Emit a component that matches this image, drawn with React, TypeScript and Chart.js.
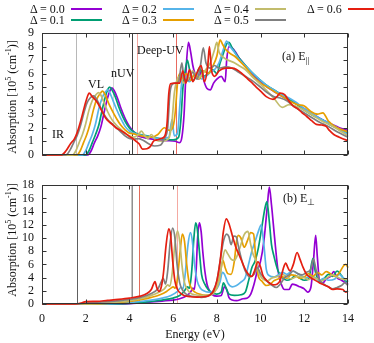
import React, { useEffect, useRef } from 'react';
import { Chart, registerables } from 'chart.js';
Chart.register(...registerables);

const FONT = "'Liberation Serif', 'Times New Roman', serif";

const deltaLabels = ['Δ = 0.0', 'Δ = 0.1', 'Δ = 0.2', 'Δ = 0.3', 'Δ = 0.4', 'Δ = 0.5', 'Δ = 0.6'];
const seriesColors = ['#9400d3', '#009e73', '#56b4e9', '#e69f00', '#c2bc6c', '#808080', '#e51e10'];

const xTicks = [0, 2, 4, 6, 8, 10, 12, 14];
const yTicksA = [0, 1, 2, 3, 4, 5, 6, 7, 8, 9];
const yTicksB = [0, 2, 4, 6, 8, 10, 12, 14, 16, 18];

// vertical marker lines (energy, eV)
const vlineEA = [1.56, 3.26, 4.13, 4.36, 6.15];
const vlineColorA = ['#b8b8b8', '#d4d4d4', '#404040', '#f4a8a0', '#e86a60'];
const vlineEB = [1.62, 3.26, 4.05, 4.13, 4.42, 6.18];
const vlineColorB = ['#606060', '#e2e2e2', '#c4c4c4', '#909090', '#e06a5a', '#f4aaa2'];

// ---- panel (a) E parallel ----
const a00: number[][] = [[0,0],[2.1,0],[2.25,0.3],[2.4,0.9],[2.55,1.4],[2.7,2.1],[2.85,3.2],[3.0,4.2],[3.1,4.7],[3.2,4.95],[3.3,4.75],[3.45,4.2],[3.6,3.5],[3.8,2.7],[4.0,2.1],[4.2,1.7],[4.4,1.4],[4.6,1.3],[4.9,1.2],[5.3,1.1],[5.7,1.05],[6.1,1.0],[6.3,0.9],[6.4,1.3],[6.5,3.0],[6.6,6.5],[6.7,8.3],[6.8,7.6],[6.9,6.6],[7.0,6.0],[7.15,5.6],[7.3,6.2],[7.4,5.5],[7.55,4.9],[7.7,4.8],[7.85,5.3],[8.0,5.6],[8.2,5.8],[8.38,5.4],[8.45,7.0],[8.55,8.0],[8.7,7.9],[8.85,7.6],[9.0,7.2],[9.3,6.6],[9.6,6.0],[10.0,5.4],[10.3,5.0],[10.6,4.7],[11.0,4.3],[11.3,4.0],[11.6,3.8],[12.0,3.4],[12.4,3.0],[12.8,2.6],[13.2,2.3],[13.6,2.0],[14.0,1.8]];
const a01: number[][] = [[0,0],[2.0,0],[2.15,0.3],[2.3,0.9],[2.45,1.5],[2.6,2.2],[2.75,3.3],[2.9,4.3],[3.0,4.8],[3.1,5.0],[3.2,4.8],[3.35,4.3],[3.5,3.6],[3.7,2.8],[3.9,2.2],[4.1,1.8],[4.3,1.6],[4.5,1.5],[4.8,1.4],[5.2,1.25],[5.6,1.15],[6.0,1.1],[6.25,1.3],[6.35,2.5],[6.45,5.0],[6.55,6.2],[6.65,7.0],[6.75,6.3],[6.9,5.5],[7.05,5.8],[7.2,6.4],[7.4,5.8],[7.6,6.0],[7.8,6.3],[8.0,6.0],[8.15,6.8],[8.3,7.5],[8.45,8.2],[8.55,8.3],[8.7,7.9],[8.9,7.4],[9.2,6.8],[9.6,6.1],[10.0,5.5],[10.3,5.1],[10.6,4.8],[11.0,4.4],[11.3,4.1],[11.6,3.8],[12.0,3.3],[12.4,2.9],[12.8,2.6],[13.2,2.2],[13.6,1.9],[14.0,1.6]];
const a02: number[][] = [[0,0],[1.85,0],[2.0,0.3],[2.15,0.9],[2.3,1.5],[2.45,2.3],[2.6,3.4],[2.75,4.2],[2.88,4.6],[3.0,4.8],[3.1,4.6],[3.25,4.0],[3.4,3.4],[3.6,2.7],[3.8,2.1],[4.0,1.75],[4.2,1.6],[4.4,1.5],[4.7,1.4],[5.0,1.3],[5.4,1.2],[5.8,1.3],[5.95,2.6],[6.05,1.4],[6.2,1.6],[6.3,3.5],[6.4,5.5],[6.5,6.0],[6.6,5.6],[6.75,5.4],[6.9,5.8],[7.1,6.0],[7.3,5.6],[7.5,5.8],[7.7,6.1],[7.9,6.3],[8.1,6.8],[8.3,7.8],[8.45,8.4],[8.6,8.0],[8.8,7.6],[9.0,7.1],[9.3,6.6],[9.6,6.1],[10.0,5.5],[10.3,5.1],[10.6,4.8],[11.0,4.4],[11.3,4.2],[11.6,3.9],[12.0,3.4],[12.4,3.0],[12.8,2.6],[13.2,2.3],[13.6,1.9],[14.0,1.5]];
const a03: number[][] = [[0,0],[1.6,0],[1.75,0.3],[1.9,0.9],[2.05,1.5],[2.2,2.3],[2.35,3.3],[2.5,4.1],[2.65,4.5],[2.77,4.7],[2.9,4.4],[3.05,3.8],[3.2,3.3],[3.4,2.7],[3.6,2.2],[3.8,1.85],[4.0,1.6],[4.2,1.55],[4.4,1.45],[4.7,1.35],[5.0,1.3],[5.3,1.5],[5.6,2.0],[5.85,1.8],[6.0,2.1],[6.1,3.2],[6.2,5.3],[6.3,6.0],[6.45,5.6],[6.6,6.0],[6.8,5.5],[7.0,6.0],[7.2,5.6],[7.4,6.2],[7.6,6.0],[7.8,6.5],[8.0,7.3],[8.15,8.5],[8.25,8.2],[8.4,7.8],[8.6,7.5],[8.8,7.3],[9.0,7.0],[9.3,6.5],[9.6,5.9],[10.0,5.3],[10.3,5.0],[10.6,4.7],[11.0,4.3],[11.3,4.0],[11.7,3.7],[12.0,3.6],[12.3,3.2],[12.6,3.0],[12.85,3.1],[13.1,2.5],[13.5,2.0],[14.0,1.7]];
const a04: number[][] = [[0,0],[1.4,0],[1.55,0.3],[1.7,0.9],[1.85,1.5],[2.0,2.3],[2.15,3.3],[2.3,4.0],[2.45,4.4],[2.58,4.6],[2.7,4.4],[2.85,3.8],[3.0,3.2],[3.2,2.6],[3.4,2.2],[3.6,1.9],[3.8,1.6],[4.0,1.4],[4.2,1.3],[4.4,1.5],[4.55,1.75],[4.7,1.4],[4.85,1.2],[5.0,1.5],[5.2,1.1],[5.5,1.0],[5.8,1.2],[5.95,2.5],[6.05,4.5],[6.15,5.4],[6.3,5.8],[6.5,5.3],[6.7,5.8],[6.9,6.2],[7.1,5.6],[7.3,5.9],[7.5,6.3],[7.7,6.8],[7.9,7.8],[8.0,8.3],[8.1,7.6],[8.3,7.2],[8.5,7.0],[8.8,6.8],[9.0,6.6],[9.3,6.3],[9.6,5.8],[10.0,5.2],[10.3,4.7],[10.6,4.2],[11.0,3.5],[11.3,3.7],[11.6,3.6],[12.0,3.3],[12.4,2.9],[12.8,2.5],[13.2,2.2],[13.6,1.8],[14.0,1.4]];
const a05: number[][] = [[0,0],[1.1,0],[1.3,0.4],[1.45,0.9],[1.6,1.4],[1.75,2.1],[1.9,3.0],[2.05,3.8],[2.2,4.2],[2.36,4.35],[2.5,4.1],[2.65,3.6],[2.8,3.1],[3.0,2.6],[3.2,2.3],[3.4,2.0],[3.6,1.7],[3.8,1.4],[4.0,1.2],[4.2,1.15],[4.4,1.2],[4.6,1.1],[4.9,0.8],[5.15,0.65],[5.4,0.7],[5.6,1.2],[5.75,2.0],[5.85,4.5],[5.95,5.2],[6.1,5.3],[6.25,5.4],[6.4,6.8],[6.5,5.6],[6.7,5.5],[6.9,6.1],[7.1,5.6],[7.25,6.6],[7.38,7.9],[7.5,6.8],[7.7,6.4],[7.9,6.6],[8.1,6.4],[8.4,6.5],[8.7,6.4],[9.0,6.1],[9.3,5.8],[9.6,5.5],[10.0,5.0],[10.3,4.6],[10.6,4.3],[10.9,4.2],[11.2,4.0],[11.5,3.6],[11.9,3.2],[12.3,2.8],[12.7,2.4],[13.1,2.1],[13.5,1.7],[14.0,1.3]];
const a06: number[][] = [[0,0],[0.9,0],[1.1,0.3],[1.32,0.86],[1.47,1.14],[1.6,1.6],[1.77,2.5],[1.9,3.3],[2.0,3.9],[2.1,4.4],[2.16,4.56],[2.3,4.3],[2.54,3.85],[2.75,3.2],[2.92,2.7],[3.1,2.4],[3.25,2.2],[3.38,2.0],[3.55,1.85],[3.7,1.7],[3.84,1.55],[4.0,1.35],[4.15,1.2],[4.3,1.0],[4.45,0.8],[4.6,0.42],[4.8,0.45],[4.95,0.6],[5.1,1.0],[5.25,1.1],[5.45,1.2],[5.62,1.4],[5.72,2.3],[5.8,4.5],[5.88,5.25],[6.1,5.3],[6.3,5.3],[6.44,6.2],[6.58,5.3],[6.75,6.3],[6.9,5.4],[7.05,5.9],[7.28,6.6],[7.43,5.4],[7.58,6.5],[7.66,8.0],[7.76,6.2],[7.9,5.8],[8.1,6.2],[8.4,6.4],[8.7,6.4],[8.9,6.3],[9.15,6.0],[9.35,5.7],[9.55,5.4],[9.8,5.0],[10.0,4.7],[10.26,4.3],[10.57,4.1],[10.75,4.3],[10.9,4.56],[11.1,4.45],[11.33,3.9],[11.5,3.6],[11.7,3.4],[11.9,3.1],[12.1,2.85],[12.35,2.5],[12.55,2.25],[12.8,2.2],[13.0,2.1],[13.15,1.8],[13.35,1.5],[13.6,1.3],[13.9,1.1],[14.0,1.05]];

// ---- panel (b) E perpendicular ----
const b00: number[][] = [[0,0],[3,0],[4,0.05],[5,0.3],[5.5,0.45],[6.0,0.6],[6.3,0.8],[6.6,1.2],[6.8,1.8],[6.9,2.4],[6.97,2.2],[7.05,5],[7.12,10],[7.2,12.3],[7.28,11],[7.36,7.8],[7.45,5.0],[7.55,3.0],[7.66,2.0],[7.8,1.4],[8.0,1.2],[8.2,1.3],[8.35,2.6],[8.45,2.2],[8.55,1.0],[8.7,0.6],[8.9,0.5],[9.2,0.8],[9.4,0.9],[9.55,1.5],[9.7,3.0],[9.85,5.0],[10.0,6.5],[10.15,9.5],[10.3,14.5],[10.4,17.7],[10.5,15.0],[10.64,10.1],[10.8,5.0],[10.95,3.0],[11.1,2.2],[11.3,2.2],[11.45,3.0],[11.6,2.9],[11.8,2.6],[12.0,2.3],[12.15,1.8],[12.3,2.5],[12.42,6.5],[12.52,10.4],[12.6,7.0],[12.7,3.4],[12.85,3.2],[13.0,3.8],[13.2,4.2],[13.35,4.9],[13.5,4.0],[13.7,3.6],[13.85,3.3],[14.0,3.0]];
const b01: number[][] = [[0,0],[3,0],[4,0.1],[5,0.4],[5.5,0.6],[6.0,0.9],[6.3,1.3],[6.5,1.9],[6.65,2.6],[6.75,2.4],[6.85,5],[6.95,10],[7.03,12.3],[7.1,11.5],[7.2,8],[7.3,4.5],[7.45,3.0],[7.6,2.2],[7.8,1.7],[8.0,1.5],[8.2,1.8],[8.3,3.2],[8.4,2.6],[8.55,1.5],[8.8,1.3],[9.1,1.4],[9.3,1.8],[9.45,3.5],[9.6,5.5],[9.75,6.5],[9.9,8.5],[10.05,11.5],[10.2,14.5],[10.29,15.5],[10.4,12.5],[10.5,9],[10.6,7.4],[10.8,5.0],[11.0,4.0],[11.2,3.6],[11.4,3.8],[11.6,4.3],[11.8,3.9],[12.0,3.6],[12.2,3.8],[12.4,6.9],[12.5,5.0],[12.7,3.4],[12.9,3.8],[13.1,4.5],[13.3,4.2],[13.5,5.0],[13.7,4.3],[13.85,3.6],[14.0,3.3]];
const b02: number[][] = [[0,0],[2.5,0],[3.5,0.1],[4.5,0.4],[5.0,0.6],[5.5,0.9],[5.9,1.3],[6.2,1.9],[6.35,2.5],[6.45,2.3],[6.55,4.5],[6.68,9],[6.79,10.8],[6.88,9.5],[6.98,6],[7.1,3.5],[7.25,2.4],[7.4,2.0],[7.6,1.8],[7.8,1.9],[8.0,2.3],[8.15,3.4],[8.25,4.8],[8.35,4.5],[8.5,3.2],[8.7,2.6],[8.9,2.8],[9.1,3.3],[9.3,4.0],[9.45,6.0],[9.6,8.0],[9.75,9.5],[9.9,11.0],[10.03,12.0],[10.15,9.0],[10.26,5.3],[10.4,4.3],[10.6,4.1],[10.8,4.4],[11.0,4.8],[11.2,4.5],[11.45,5.0],[11.7,4.6],[11.9,4.2],[12.1,4.0],[12.3,4.3],[12.5,4.0],[12.7,3.6],[12.9,3.9],[13.1,3.6],[13.4,3.8],[13.6,4.5],[13.8,3.9],[14.0,3.5]];
const b03: number[][] = [[0,0],[2.2,0],[3,0.1],[4,0.4],[4.5,0.65],[5,1.0],[5.4,1.4],[5.7,1.9],[5.9,2.4],[6.0,2.6],[6.1,2.4],[6.2,4],[6.32,8],[6.42,10.6],[6.52,9.5],[6.62,6],[6.72,3.5],[6.85,2.3],[7.0,1.8],[7.2,1.5],[7.5,1.3],[7.8,1.6],[8.0,2.5],[8.15,4.5],[8.28,6.6],[8.38,5.5],[8.5,4.6],[8.65,4.5],[8.8,6.5],[8.9,9.5],[8.98,10.4],[9.1,10.0],[9.25,8.6],[9.4,9.6],[9.55,10.8],[9.68,10.6],[9.78,7.0],[9.9,4.2],[10.05,3.5],[10.26,2.8],[10.45,3.0],[10.6,3.5],[10.8,3.8],[11.0,4.1],[11.2,3.9],[11.4,4.4],[11.6,4.3],[11.8,3.9],[12.0,4.1],[12.2,4.6],[12.4,4.2],[12.6,4.8],[12.8,4.4],[13.0,4.9],[13.2,4.6],[13.4,4.2],[13.6,4.7],[13.8,5.8],[13.9,6.0],[14.0,5.5]];
const b04: number[][] = [[0,0],[2.0,0],[3,0.15],[4,0.5],[4.5,0.8],[5.0,1.3],[5.3,1.7],[5.6,2.3],[5.75,2.9],[5.85,2.7],[5.95,4.5],[6.08,9],[6.2,11.1],[6.3,9.5],[6.4,6],[6.5,3.5],[6.65,2.2],[6.8,1.6],[7.0,1.4],[7.3,1.3],[7.6,1.3],[7.9,1.8],[8.1,3.5],[8.25,6.5],[8.38,8.2],[8.5,7.6],[8.65,6.8],[8.8,6.6],[8.95,7.5],[9.1,9],[9.25,10.5],[9.42,11.0],[9.55,9],[9.65,7.6],[9.8,6.5],[9.95,4.5],[10.1,3.8],[10.3,3.5],[10.5,3.9],[10.8,4.2],[11.0,4.5],[11.2,4.1],[11.4,3.8],[11.7,4.2],[12.0,4.0],[12.2,3.7],[12.4,4.0],[12.6,3.8],[12.8,3.5],[13.0,3.9],[13.3,4.4],[13.5,4.1],[13.7,3.8],[14.0,3.7]];
const b05: number[][] = [[0,0],[1.6,0],[2,0.15],[3,0.35],[4,0.7],[4.5,1.0],[5.0,1.6],[5.3,2.3],[5.45,3.3],[5.55,3.9],[5.65,3.0],[5.75,5],[5.87,9.5],[5.98,11.5],[6.08,10],[6.18,6],[6.3,3.2],[6.45,2.0],[6.6,1.5],[6.8,1.2],[7.0,1.1],[7.3,1.0],[7.6,1.2],[7.8,1.8],[8.0,3.5],[8.15,6.5],[8.3,9.5],[8.45,10.6],[8.55,10.2],[8.65,9.0],[8.78,10.3],[8.88,10.2],[9.0,8.5],[9.15,6.5],[9.3,5.0],[9.5,4.1],[9.7,4.5],[9.85,5.5],[10.0,4.6],[10.2,3.8],[10.45,3.0],[10.72,2.5],[10.9,3.0],[11.1,4.0],[11.3,4.4],[11.5,5.0],[11.7,4.6],[11.9,4.4],[12.1,4.8],[12.3,5.3],[12.42,6.8],[12.55,5.0],[12.7,3.6],[12.9,3.0],[13.1,2.6],[13.3,2.3],[13.5,2.5],[13.7,2.8],[13.85,3.2],[14.0,2.8]];
const b06: number[][] = [[0,0],[1.5,0],[1.8,0.15],[2.0,0.36],[2.5,0.4],[3.0,0.55],[3.5,0.7],[4.0,0.9],[4.5,1.2],[4.8,1.6],[5.0,2.2],[5.1,3.0],[5.17,3.4],[5.25,2.5],[5.35,1.9],[5.45,2.5],[5.55,4.5],[5.68,9],[5.8,11.4],[5.88,10.5],[5.98,6.5],[6.08,3.5],[6.2,2.2],[6.35,1.6],[6.5,1.3],[6.8,1.1],[7.1,1.05],[7.4,1.1],[7.65,1.3],[7.85,2.0],[8.0,3.5],[8.15,6.5],[8.3,11.0],[8.43,12.9],[8.55,12.2],[8.73,10.1],[8.88,8.5],[9.04,7.3],[9.2,6.0],[9.34,5.0],[9.5,4.3],[9.6,4.2],[9.72,5.0],[9.88,6.4],[10.0,5.6],[10.1,4.4],[10.26,3.6],[10.45,3.1],[10.57,2.9],[10.75,3.0],[10.9,3.6],[11.05,5.5],[11.15,6.2],[11.25,5.5],[11.35,5.0],[11.5,6.0],[11.67,7.8],[11.8,6.8],[11.95,5.5],[12.1,4.5],[12.25,4.1],[12.5,3.6],[12.7,3.2],[12.9,2.9],[13.1,2.6],[13.3,2.2],[13.5,2.3],[13.76,2.2],[13.9,1.8],[14.0,2.0]];

const seriesA = [a00, a01, a02, a03, a04, a05, a06];
const seriesB = [b00, b01, b02, b03, b04, b05, b06];

const framePlugin = {
  id: 'gpframe',
  beforeDatasetsDraw(chart: any, _a: any, opts: any) {
    const { ctx, chartArea: ca, scales } = chart;
    const x = scales.x;
    ctx.save();
    (opts.lineE as number[]).forEach((e, i) => {
      const px = Math.round(x.getPixelForValue(e)) + 0.5;
      ctx.strokeStyle = opts.lineColor[i];
      ctx.lineWidth = 1;
      ctx.beginPath();
      ctx.moveTo(px, ca.top);
      ctx.lineTo(px, ca.bottom);
      ctx.stroke();
    });
    ctx.restore();
  },
  afterDatasetsDraw(chart: any, _a: any, opts: any) {
    const { ctx, chartArea: ca, scales } = chart;
    const x = scales.x, y = scales.y;
    const L = Math.round(ca.left) + 0.5, R = Math.round(ca.right) - 0.5;
    const T = Math.round(ca.top) + 0.5, B = Math.round(ca.bottom) - 0.5;
    ctx.save();
    ctx.strokeStyle = '#333';
    ctx.lineWidth = 1;
    ctx.strokeRect(L, T, R - L, B - T);
    const tl = 4;
    ctx.beginPath();
    (opts.xTicks as number[]).forEach((v) => {
      const px = Math.round(x.getPixelForValue(v)) + 0.5;
      ctx.moveTo(px, B); ctx.lineTo(px, B - tl);
      ctx.moveTo(px, T); ctx.lineTo(px, T + tl);
    });
    (opts.yTicks as number[]).forEach((v) => {
      const py = Math.round(y.getPixelForValue(v)) + 0.5;
      ctx.moveTo(L, py); ctx.lineTo(L + tl, py);
      ctx.moveTo(R, py); ctx.lineTo(R - tl, py);
    });
    ctx.stroke();
    ctx.restore();
  },
};

function buildConfig(series: number[][][], yMax: number, yTicks: number[], lineE: number[], lineColor: string[], bottom: boolean, padding: any) {
  const datasets = series.map((s, i) => ({
    label: deltaLabels[i],
    data: s.map((p) => ({ x: p[0], y: p[1] })),
    borderColor: seriesColors[i],
    backgroundColor: seriesColors[i],
    borderWidth: 1.7,
    pointRadius: 0,
    fill: false,
    clip: 2,
    cubicInterpolationMode: 'monotone',
    order: series.length - 1 - i,
  }));
  return {
    type: 'line',
    data: { datasets },
    plugins: [framePlugin],
    options: {
      animation: false,
      responsive: false,
      maintainAspectRatio: false,
      events: [],
      layout: { padding },
      plugins: {
        legend: { display: false },
        tooltip: { enabled: false },
        gpframe: { lineE, lineColor, xTicks, yTicks },
      },
      scales: {
        x: {
          type: 'linear',
          min: 0,
          max: 14,
          display: bottom,
          grid: { display: false, drawTicks: false },
          border: { display: false },
          ticks: { stepSize: 2, autoSkip: false, padding: 8, color: '#111', font: { family: FONT, size: 12 }, maxRotation: 0 },
          title: { display: bottom, text: 'Energy (eV)', color: '#111', font: { family: FONT, size: 12 }, padding: { top: 0, bottom: 1 } },
          afterFit: (s: any) => { s.height = bottom ? 39 : 0; },
        },
        y: {
          type: 'linear',
          min: 0,
          max: yMax,
          grid: { display: false, drawTicks: false },
          border: { display: false },
          ticks: { stepSize: yTicks[1] - yTicks[0], autoSkip: false, padding: 8, color: '#111', font: { family: FONT, size: 12 } },
          afterFit: (s: any) => { s.width = 42; },
        },
      },
    },
  } as any;
}

const legendCols = [30, 122, 214, 307];
const legendRows = [9, 20];

export default function App() {
  const refA = useRef<HTMLCanvasElement>(null);
  const refB = useRef<HTMLCanvasElement>(null);

  useEffect(() => {
    const cA = new Chart(refA.current!, buildConfig(seriesA, 9, yTicksA, vlineEA, vlineColorA, false, { top: 33, left: 0, right: 26, bottom: 8 }));
    const cB = new Chart(refB.current!, buildConfig(seriesB, 18, yTicksB, vlineEB, vlineColorB, true, { top: 6, left: 0, right: 26, bottom: 0 }));
    return () => { cA.destroy(); cB.destroy(); };
  }, []);

  const txt: React.CSSProperties = { position: 'absolute', fontFamily: FONT, fontSize: 12, color: '#111', whiteSpace: 'nowrap', lineHeight: '14px' };
  const sup: React.CSSProperties = { fontSize: 8, verticalAlign: 'super', lineHeight: 0 };
  const sub: React.CSSProperties = { fontSize: 9, verticalAlign: 'sub', lineHeight: 0 };

  const legendItems = deltaLabels.map((lab, i) => {
    const col = i % 2 === 0 ? i / 2 : (i - 1) / 2;
    const row = i % 2;
    const lx = legendCols[col];
    const ly = legendRows[row];
    return (
      <React.Fragment key={lab}>
        <div style={{ ...txt, left: lx, top: ly - 7 }}>{lab}</div>
        <div style={{ position: 'absolute', left: lx + 41, top: ly - 1, width: Math.min(31, 374 - (lx + 41)), height: 2, background: seriesColors[i] }} />
      </React.Fragment>
    );
  });

  const ytitle = (cy: number) => (
    <div style={{ ...txt, left: 12, top: cy, transform: 'translate(-50%, -50%) rotate(-90deg)' }}>
      Absorption [10<span style={sup}>5</span> (cm<span style={sup}>-1</span>)]
    </div>
  );

  return (
    <div style={{ position: 'fixed', left: 0, top: 0, width: 374, height: 343, background: '#fff', overflow: 'hidden' }}>
      <canvas ref={refA} width={374} height={170} style={{ position: 'absolute', left: 0, top: 0, width: 374, height: 170 }} />
      <canvas ref={refB} width={374} height={173} style={{ position: 'absolute', left: 0, top: 170, width: 374, height: 173 }} />
      {legendItems}
      {ytitle(97)}
      {ytitle(240)}
      <div style={{ ...txt, left: 52, top: 127 }}>IR</div>
      <div style={{ ...txt, left: 88, top: 77 }}>VL</div>
      <div style={{ ...txt, left: 111, top: 66 }}>nUV</div>
      <div style={{ ...txt, left: 137, top: 43 }}>Deep-UV</div>
      <div style={{ ...txt, left: 282, top: 49 }}>(a) E<span style={sub}>||</span></div>
      <div style={{ ...txt, left: 283, top: 191 }}>(b) E<span style={sub}>⊥</span></div>
    </div>
  );
}
